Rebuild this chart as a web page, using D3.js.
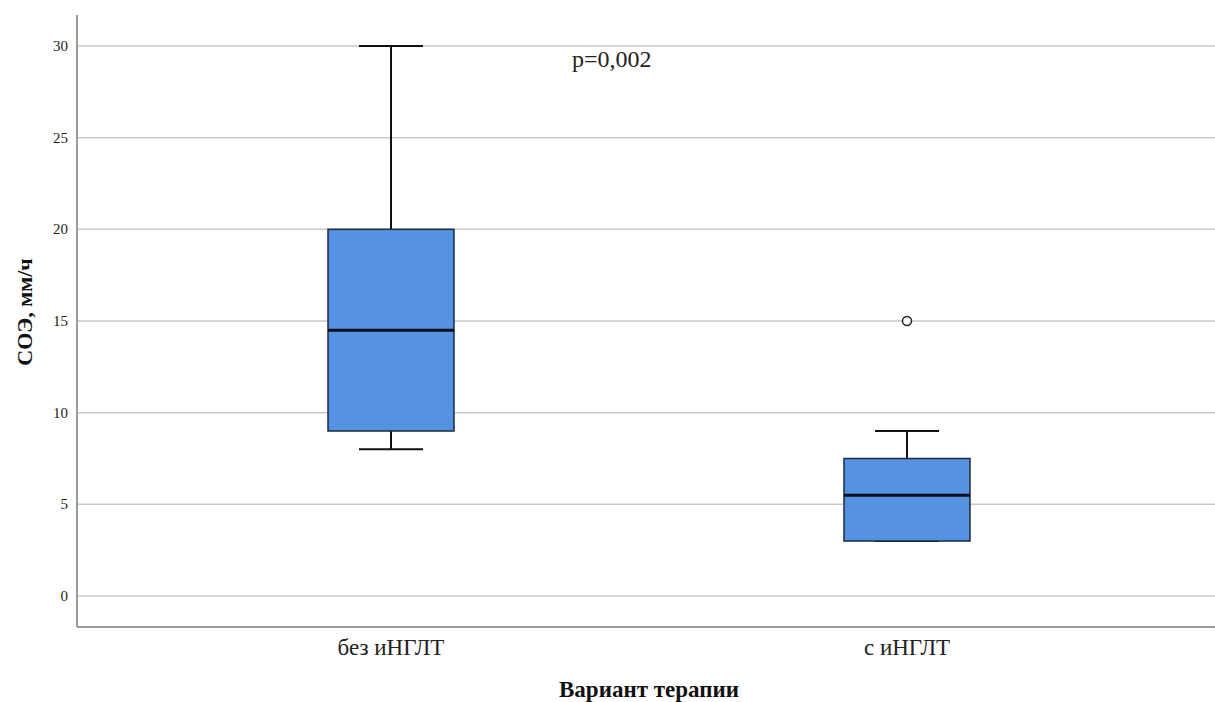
<!DOCTYPE html>
<html>
<head>
<meta charset="utf-8">
<script src="https://cdn.jsdelivr.net/npm/d3@7"></script>
<style>
  body { margin: 0; background: #fff; }
  svg { display: block; }
</style>
</head>
<body>
<div id="chart"></div>
<script>
const categories = ["без иНГЛТ", "с иНГЛТ"];
const q1 = [9, 3];
const median = [14.5, 5.5];
const q3 = [20, 7.5];
const whiskerLow = [8, 3];
const whiskerHigh = [30, 9];
const outliers = [[], [15]];
const yTicks = [0, 5, 10, 15, 20, 25, 30];

const width = 1215, height = 702;
const plotLeft = 77, plotRight = 1215, plotTop = 15, plotBottom = 627;

const svg = d3.select("#chart")
  .append("svg")
  .attr("width", width)
  .attr("height", height);

const y = d3.scaleLinear().domain([-1.69, 31.69]).range([plotBottom, plotTop]);
const x = d3.scaleBand().domain(categories).range([133, 1165]);

// gridlines
svg.append("g")
  .selectAll("line")
  .data(yTicks)
  .join("line")
  .attr("x1", plotLeft).attr("x2", plotRight)
  .attr("y1", d => y(d)).attr("y2", d => y(d))
  .attr("stroke", "#c9c9c9")
  .attr("stroke-width", 1.5);

// y tick labels
svg.append("g")
  .selectAll("text")
  .data(yTicks)
  .join("text")
  .attr("x", 68)
  .attr("y", d => y(d) + 5)
  .attr("text-anchor", "end")
  .attr("font-family", "Liberation Serif, serif")
  .attr("font-size", 15)
  .attr("fill", "#222")
  .text(d => d);

// axis lines
svg.append("line")
  .attr("x1", plotLeft).attr("x2", plotLeft).attr("y1", plotTop).attr("y2", plotBottom)
  .attr("stroke", "#9a9a9a").attr("stroke-width", 2);
svg.append("line")
  .attr("x1", plotLeft).attr("x2", plotRight).attr("y1", plotBottom).attr("y2", plotBottom)
  .attr("stroke", "#9a9a9a").attr("stroke-width", 2);

const boxW = 126, capW = 64;
const data = categories.map((c, i) => ({
  c, q1: q1[i], med: median[i], q3: q3[i], lo: whiskerLow[i], hi: whiskerHigh[i], out: outliers[i]
}));

const g = svg.append("g")
  .selectAll("g")
  .data(data)
  .join("g")
  .attr("transform", d => `translate(${x(d.c) + x.bandwidth() / 2},0)`);

// whiskers
g.append("line")
  .attr("x1", 0).attr("x2", 0)
  .attr("y1", d => y(d.q3)).attr("y2", d => y(d.hi))
  .attr("stroke", "#111").attr("stroke-width", 2);
g.append("line")
  .attr("x1", 0).attr("x2", 0)
  .attr("y1", d => y(d.q1)).attr("y2", d => y(d.lo))
  .attr("stroke", "#111").attr("stroke-width", 2);
g.append("line")
  .attr("x1", -capW / 2).attr("x2", capW / 2)
  .attr("y1", d => y(d.hi)).attr("y2", d => y(d.hi))
  .attr("stroke", "#111").attr("stroke-width", 2);
g.append("line")
  .attr("x1", -capW / 2).attr("x2", capW / 2)
  .attr("y1", d => y(d.lo)).attr("y2", d => y(d.lo))
  .attr("stroke", "#111").attr("stroke-width", 2);

// box
g.append("rect")
  .attr("x", -boxW / 2)
  .attr("width", boxW)
  .attr("y", d => y(d.q3))
  .attr("height", d => y(d.q1) - y(d.q3))
  .attr("fill", "#5592e2")
  .attr("stroke", "#1c2a3c")
  .attr("stroke-width", 1.5);

// median
g.append("line")
  .attr("x1", -boxW / 2).attr("x2", boxW / 2)
  .attr("y1", d => y(d.med)).attr("y2", d => y(d.med))
  .attr("stroke", "#0a0f1a").attr("stroke-width", 3);

// outliers
g.selectAll("circle")
  .data(d => d.out)
  .join("circle")
  .attr("cx", 0)
  .attr("cy", d => y(d))
  .attr("r", 4.5)
  .attr("fill", "#fff")
  .attr("stroke", "#222")
  .attr("stroke-width", 1.5);

// category labels
svg.append("g")
  .selectAll("text")
  .data(categories)
  .join("text")
  .attr("x", d => x(d) + x.bandwidth() / 2)
  .attr("y", 655)
  .attr("text-anchor", "middle")
  .attr("font-family", "Liberation Serif, serif")
  .attr("font-size", 23)
  .attr("fill", "#222")
  .text(d => d);

// axis titles
svg.append("text")
  .attr("x", 649)
  .attr("y", 697)
  .attr("text-anchor", "middle")
  .attr("font-family", "Liberation Serif, serif")
  .attr("font-weight", "bold")
  .attr("font-size", 23)
  .attr("fill", "#111")
  .text("Вариант терапии");

svg.append("text")
  .attr("transform", "translate(32,312) rotate(-90)")
  .attr("text-anchor", "middle")
  .attr("font-family", "Liberation Serif, serif")
  .attr("font-weight", "bold")
  .attr("font-size", 22)
  .attr("fill", "#111")
  .text("СОЭ, мм/ч");

// p-value annotation
svg.append("text")
  .attr("x", 572)
  .attr("y", 67)
  .attr("font-family", "Liberation Serif, serif")
  .attr("font-size", 24)
  .attr("fill", "#222")
  .text("p=0,002");
</script>
</body>
</html>
